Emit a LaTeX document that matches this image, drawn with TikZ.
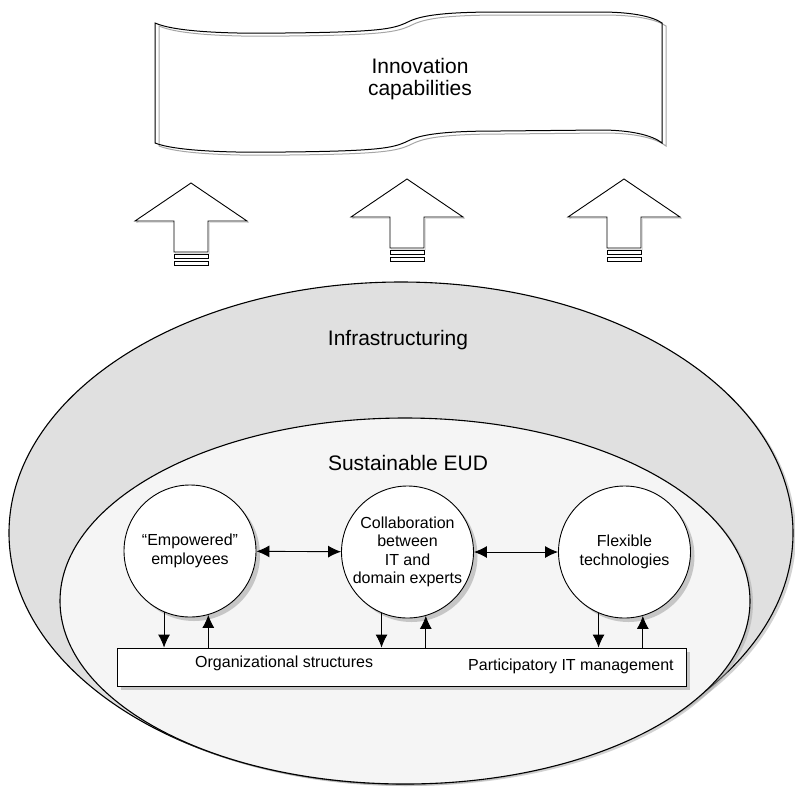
\documentclass[tikz,border=0pt]{standalone}
\usepackage{fontspec}
\setmainfont{Liberation Sans}
\usetikzlibrary{arrows.meta,shadows,shapes.geometric}

\tikzset{
  region/.style={draw, ellipse, line width=1.1pt, inner sep=0pt,
    drop shadow={shadow xshift=3pt, shadow yshift=-2pt, fill=black!35}},
  unit/.style={draw, circle, fill=white, line width=0.9pt, minimum size=132pt,
    inner sep=0pt, align=center, font=\fontsize{16}{18.5}\selectfont,
    drop shadow={shadow xshift=4pt, shadow yshift=-4pt, fill=black!40}},
  title/.style={font=\fontsize{21}{22}\selectfont, align=center},
  boxtext/.style={font=\fontsize{16}{18}\selectfont, anchor=west, inner sep=0pt},
  flow/.style={line width=0.9pt, -{Latex[length=13pt,width=12pt]}},
  backflow/.style={line width=0.9pt, {Latex[length=13pt,width=12pt]}-},
  twoway/.style={line width=0.9pt, {Latex[length=13pt,width=12pt]}-{Latex[length=13pt,width=12pt]}}
}

\begin{document}
\begin{tikzpicture}[x=1pt, y=-1pt]
    \useasboundingbox (0,0) rectangle (795,788);

    % the banner of Innovation capabilities (gray copy first, then black)
    \foreach \c/\s in {black!35/4, black/0}
    \draw[\c, line width=1pt, shift={(\s,0.75*\s)}]
        (155,23) .. controls (175,32) and (230,34) .. (285,33)
        .. controls (390,32) and (395,28) .. (410,21)
        .. controls (425,14) and (455,12) .. (500,12)
        -- (600,12) .. controls (630,12) and (652,16) .. (662,23)
        -- (662,143)
        .. controls (652,135) and (630,130) .. (600,130)
        -- (500,131) .. controls (455,131) and (425,133) .. (410,140)
        .. controls (395,147) and (390,151) .. (285,152)
        .. controls (230,153) and (175,151) .. (155,143) -- cycle;
    % The label in the banner
    \node[title] (innov) at (420,79) {Innovation\\capabilities};

    % the three block arrows pointing up
    \foreach \x/\y in {191/183, 407/179, 624/179} {
    \draw[black!35, shift={(1.5,1.5)}] (\x,\y) -- ++(56,38) -- ++(-39,0)
        -- ++(0,31) -- ++(-34,0) -- ++(0,-31) -- ++(-39,0) -- cycle;
    \draw[line width=0.9pt, fill=white] (\x,\y) -- ++(56,38) -- ++(-39,0)
        -- ++(0,31) -- ++(-34,0) -- ++(0,-31) -- ++(-39,0) -- cycle;
    % the two small bars under each arrow
    \draw[line width=0.9pt, fill=white] (\x-17,\y+71) rectangle ++(34,4);
    \draw[line width=0.9pt, fill=white] (\x-17,\y+78) rectangle ++(34,4);
    }

    % the outer ellipse -> Infrastructuring
    \node[region, fill=black!12, minimum width=784pt, minimum height=502pt]
        (infra) at (401,533) {};
    \node[title] (infralabel) at (398,340) {Infrastructuring};

    % the inner ellipse -> Sustainable EUD
    \node[region, fill=black!4, minimum width=690pt, minimum height=366pt]
        (eud) at (405,601) {};
    \node[title] (eudlabel) at (408,463) {Sustainable EUD};

    % the bottom box
    \node[draw, fill=white, line width=0.9pt, minimum width=569pt,
        minimum height=38pt, inner sep=0pt,
        drop shadow={shadow xshift=4pt, shadow yshift=-4pt, fill=black!40}]
        (orgbox) at (401.5,667) {};
    \node[boxtext] (orgs) at (195,663) {Organizational structures};
    \node[boxtext] (pitm) at (468,666) {Participatory IT management};

    % the three circles
    \node[unit] (emp) at (190,551) {“Empowered”\\employees};
    \node[unit] (collab) at (407.5,552) {Collaboration\\between\\IT and\\domain experts};
    \node[unit] (flex) at (624.5,552) {Flexible\\technologies};

    % double arrows between the circles
    \draw[twoway] (emp) -- (collab);
    \draw[twoway] (collab) -- (flex);

    % arrows between the circles and the box
    \foreach \n in {emp, collab, flex} {
    \draw[flow] (\n.-113) -- (\n.-113 |- orgbox.north);
    \draw[backflow] (\n.-74) -- (\n.-74 |- orgbox.north);
    }
\end{tikzpicture}
\end{document}
